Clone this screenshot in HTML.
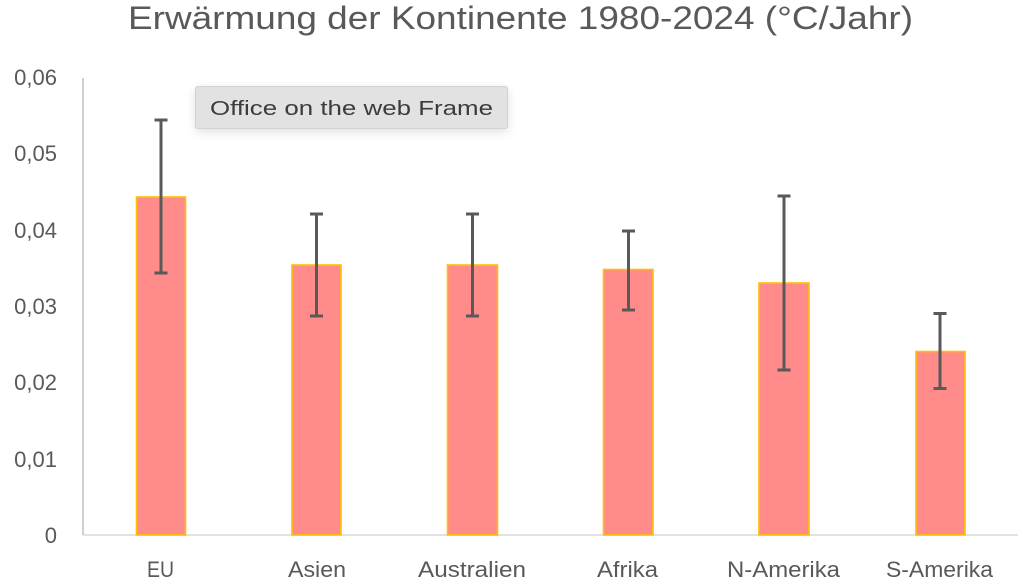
<!DOCTYPE html>
<html>
<head>
<meta charset="utf-8">
<style>
  html, body { margin:0; padding:0; background:#fff; }
  body { width:1023px; height:586px; overflow:hidden; position:relative; }
  svg { position:absolute; left:0; top:0; }
  .tip {
    position:absolute; left:195px; top:86px; width:313px; height:43px;
    box-sizing:border-box;
    background:#e2e2e2; border:1px solid #d2d2d2; border-radius:3px;
    box-shadow:0 3px 10px rgba(0,0,0,0.12);
  }
</style>
</head>
<body>
<svg width="1023" height="586" viewBox="0 0 1023 586" xmlns="http://www.w3.org/2000/svg" font-family="'Liberation Sans', sans-serif">
  <!-- Title -->
  <text x="128" y="29" font-size="32" fill="#595959" textLength="785" lengthAdjust="spacingAndGlyphs">Erwärmung der Kontinente 1980-2024 (°C/Jahr)</text>

  <!-- Y axis labels -->
  <g font-size="22" fill="#595959" text-anchor="end">
    <text x="57" y="85">0,06</text>
    <text x="57" y="161">0,05</text>
    <text x="57" y="238">0,04</text>
    <text x="57" y="314">0,03</text>
    <text x="57" y="390">0,02</text>
    <text x="57" y="467">0,01</text>
    <text x="57" y="543">0</text>
  </g>

  <!-- Axes -->
  <line x1="83" y1="78" x2="83" y2="535" stroke="#bfbfbf" stroke-width="1.5"/>
  <line x1="83" y1="535" x2="1018" y2="535" stroke="#d9d9d9" stroke-width="1.5"/>

  <!-- Bars -->
  <g fill="#ff8b8b" stroke="#ffc000" stroke-width="1.6">
    <rect x="136.5" y="197" width="49" height="338"/>
    <rect x="292" y="265" width="49" height="270"/>
    <rect x="447.5" y="265" width="50" height="270"/>
    <rect x="603.5" y="269.5" width="49.5" height="265.5"/>
    <rect x="759" y="283" width="50" height="252"/>
    <rect x="916" y="351.5" width="49" height="183.5"/>
  </g>

  <!-- Error bars -->
  <g stroke="#595959" stroke-width="3" fill="none">
    <line x1="161" y1="120" x2="161" y2="273"/>
    <line x1="154.5" y1="120" x2="167.5" y2="120"/>
    <line x1="154.5" y1="273" x2="167.5" y2="273"/>

    <line x1="316.5" y1="214" x2="316.5" y2="316"/>
    <line x1="310" y1="214" x2="323" y2="214"/>
    <line x1="310" y1="316" x2="323" y2="316"/>

    <line x1="472.5" y1="214" x2="472.5" y2="316"/>
    <line x1="466" y1="214" x2="479" y2="214"/>
    <line x1="466" y1="316" x2="479" y2="316"/>

    <line x1="628.5" y1="231" x2="628.5" y2="310"/>
    <line x1="622" y1="231" x2="635" y2="231"/>
    <line x1="622" y1="310" x2="635" y2="310"/>

    <line x1="784" y1="196" x2="784" y2="370"/>
    <line x1="777.5" y1="196" x2="790.5" y2="196"/>
    <line x1="777.5" y1="370" x2="790.5" y2="370"/>

    <line x1="940" y1="313.5" x2="940" y2="388.5"/>
    <line x1="933.5" y1="313.5" x2="946.5" y2="313.5"/>
    <line x1="933.5" y1="388.5" x2="946.5" y2="388.5"/>
  </g>

  <!-- Category labels -->
  <g font-size="22" fill="#595959" lengthAdjust="spacingAndGlyphs">
    <text x="147" y="577" textLength="27" lengthAdjust="spacingAndGlyphs">EU</text>
    <text x="288" y="577" textLength="58" lengthAdjust="spacingAndGlyphs">Asien</text>
    <text x="418" y="577" textLength="108" lengthAdjust="spacingAndGlyphs">Australien</text>
    <text x="597" y="577" textLength="61" lengthAdjust="spacingAndGlyphs">Afrika</text>
    <text x="727" y="577" textLength="113" lengthAdjust="spacingAndGlyphs">N-Amerika</text>
    <text x="886" y="577" textLength="107" lengthAdjust="spacingAndGlyphs">S-Amerika</text>
  </g>
</svg>

<div class="tip"></div>
<svg width="1023" height="586" viewBox="0 0 1023 586" xmlns="http://www.w3.org/2000/svg" font-family="'Liberation Sans', sans-serif">
  <text x="210" y="115" font-size="20" fill="#3c3c3c" textLength="283" lengthAdjust="spacingAndGlyphs">Office on the web Frame</text>
</svg>
</body>
</html>
